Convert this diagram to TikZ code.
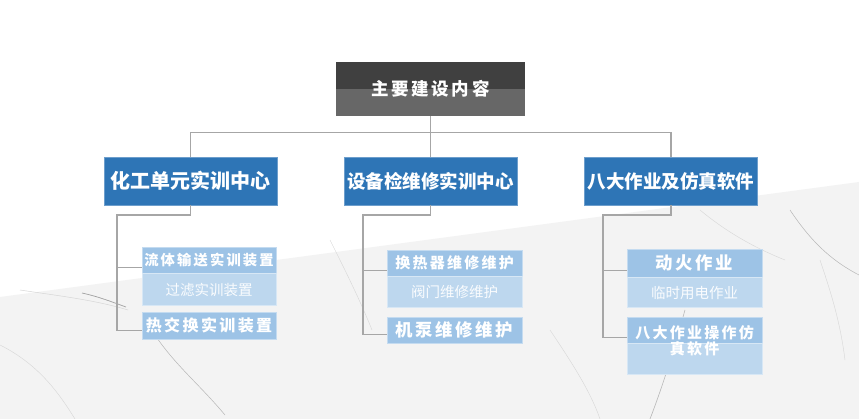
\documentclass[tikz,border=0pt]{standalone}
\usepackage{fontspec}
\newfontfamily\cjk{Noto Sans CJK SC}
\newfontfamily\cjkwide[LetterSpace=15]{Noto Sans CJK SC}
\usetikzlibrary{positioning,calc}

\definecolor{topdark}{HTML}{404040}
\definecolor{topgray}{HTML}{676767}
\definecolor{midblue}{HTML}{2E75B6}
\definecolor{hdrblue}{HTML}{9DC3E6}
\definecolor{subblue}{HTML}{BDD7EE}
\definecolor{linkgray}{HTML}{A6A6A6}
\definecolor{marble}{HTML}{F3F3F3}
\definecolor{vein}{HTML}{D6D6D6}

\newcommand\fsz[1]{\fontsize{#1}{#1}\selectfont}

\tikzset{
  topbox/.style={fill=topgray, minimum width=189, minimum height=54, inner sep=0, text=white,
    font=\cjkwide\bfseries\fsz{17.5},
    path picture={\fill[topdark] (path picture bounding box.north west) rectangle (path picture bounding box.east);}},
  midbox/.style={fill=midblue, draw=midblue!70!white, line width=0.6pt, minimum width=173, minimum height=48,
    inner sep=0, text=white, font=\cjk\bfseries\fsz{18.5}},
  hdrbox/.style={fill=hdrblue, draw=hdrblue!60!white, line width=0.5pt, minimum width=135, minimum height=26,
    inner sep=0, text=white, font=\cjkwide\bfseries\fsz{15}},
  subbox/.style={fill=subblue, draw=subblue!60!white, line width=0.5pt, minimum width=135, minimum height=31,
    inner sep=0, text=white!92!subblue, font=\cjk\fsz{14.5}},
  link/.style={draw=linkgray, line width=1.1pt}
}

\begin{document}
\begin{tikzpicture}[x=1pt, y=-1pt]
    \useasboundingbox (0,0) rectangle (859,419);
    % background
    \fill[white] (0,0) rectangle (859,419);
    \fill[marble] (0,297) -- (859,182) -- (859,419) -- (0,419) -- cycle;
    \draw[vein, line width=0.5pt] (20,290) .. controls (60,296) and (95,300) .. (128,310);
    \draw[vein!75!black, line width=0.7pt] (82,293) .. controls (100,297) and (112,302) .. (126,307);
    \draw[vein, line width=0.4pt] (0,345) .. controls (40,365) and (60,395) .. (75,419);
    \draw[vein!85!black, line width=0.5pt] (155,335) .. controls (175,365) and (200,385) .. (225,415);
    \draw[vein, line width=0.4pt] (330,240) .. controls (345,270) and (360,300) .. (372,330);
    \draw[vein!85!black, line width=0.6pt] (685,310) .. controls (675,345) and (665,380) .. (650,419);
    \draw[vein, line width=0.4pt] (700,210) .. controls (730,235) and (760,250) .. (785,260);
    \draw[vein!85!black, line width=0.5pt] (790,210) .. controls (810,240) and (830,260) .. (859,275);
    \draw[vein, line width=0.4pt] (820,260) .. controls (830,290) and (840,320) .. (845,360);
    \draw[vein, line width=0.4pt] (550,330) .. controls (570,360) and (590,390) .. (600,419);

    % top
    \node[topbox] (top) at (430.5,89) {主要建设内容};

    % centres
    \node[midbox, font=\cjk\bfseries\fsz{20}] (hg) at (190.5,181) {化工单元实训中心};
    \node[midbox] (sb) at (430.5,181) {设备检维修实训中心};
    \node[midbox] (bd) at (671,181) {八大作业及仿真软件};

    % chemical unit
    \node[hdrbox, minimum width=134, font=\cjkwide\bfseries\fsz{14.3}] (lt) at (209,260) {流体输送实训装置};
    \node[subbox, minimum width=134, minimum height=32, below=0pt of lt] (gl) {过滤实训装置};
    \node[hdrbox, minimum width=134, minimum height=27, font=\cjkwide\bfseries\fsz{16}] (rj) at (209,325.5) {热交换实训装置};

    % maintenance
    \node[hdrbox] (hr) at (454.5,263) {换热器维修维护};
    \node[subbox, below=0pt of hr] (fm) {阀门维修维护};
    \node[hdrbox, font=\cjkwide\bfseries\fsz{17.4}] (jb) at (454.5,330) {机泵维修维护};

    % eight operations
    \node[hdrbox, minimum height=28, font=\cjkwide\bfseries\fsz{17.4}] (dh) at (694.5,263) {动火作业};
    \node[subbox, minimum height=30, below=0pt of dh] (ls) {临时用电作业};
    \node[hdrbox] (cz) at (694.5,330) {};
    \node[subbox, below=0pt of cz] (czs) {};
    \node[align=center, inner sep=0, text=white, font=\cjkwide\bfseries\fontsize{15}{16}\selectfont] (czt)
        at ([yshift=2.5pt]cz.south) {八大作业操作仿\\真软件};

    % links
    \coordinate (tbus) at ($(top.south)+(0,16)$);
    \draw[link] (top.south) -- (tbus);
    \draw[link] (tbus) -| (hg.north);
    \draw[link] (tbus) -- (sb.north);
    \draw[link] (tbus) -| (bd.north);

    \coordinate (hgturn) at (117,215);
    \draw[link] (hg.south) |- (hgturn) |- ([yshift=6pt]lt.south west);
    \draw[link] (hgturn) |- ([yshift=9pt]rj.south west);

    \coordinate (sbturn) at (363,215);
    \draw[link] (sb.south) |- (sbturn) |- ([yshift=6pt]hr.south west);
    \draw[link] (sbturn) |- ([yshift=9pt]jb.south west);

    \coordinate (bdturn) at (603,215);
    \draw[link] (bd.south) |- (bdturn) |- ([yshift=7pt]dh.south west);
    \draw[link] (bdturn) |- ([yshift=6pt]cz.south west);
\end{tikzpicture}
\end{document}
